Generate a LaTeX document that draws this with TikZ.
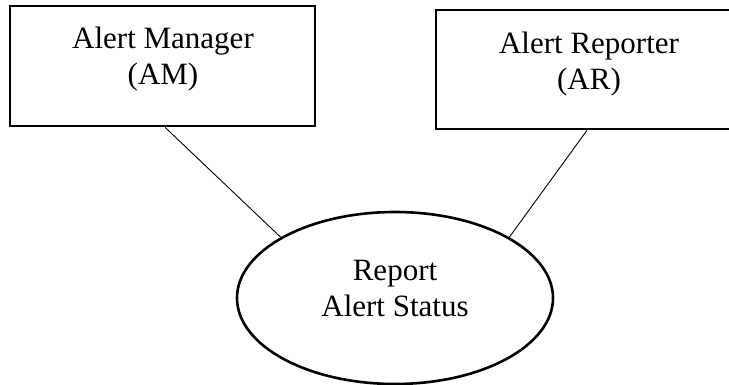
\documentclass[tikz,border=0pt]{standalone}
\usepackage{fontspec}
\setmainfont{Liberation Serif}
\usetikzlibrary{shapes.geometric,calc}
\begin{document}
\begin{tikzpicture}[x=1pt,y=-1pt,
  boxshape/.style={draw,line width=2.6pt,rectangle,inner sep=0pt},
  ovalshape/.style={draw,line width=2.6pt,ellipse,inner sep=0pt,minimum width=316pt,minimum height=172pt},
  label text/.style={align=center,inner sep=0pt,font=\fontsize{31}{36}\selectfont},
  link/.style={line width=0.9pt}]
\useasboundingbox (0,0) rectangle (729,385);
\clip (0,0) rectangle (729,385);
\node[boxshape,minimum width=305pt,minimum height=120pt] (am) at (162.5,66) {};
\node[boxshape,minimum width=306pt,minimum height=119pt] (ar) at (589,69.5) {};
\node[ovalshape] (ras) at (395,298) {};
\node[label text] (amtext) at (163,59) {Alert Manager\\(AM)};
\node[label text] (artext) at (589,64) {Alert Reporter\\(AR)};
\node[label text] (rastext) at (395,289) {Report\\Alert Status};
\draw[link] ($(am.south)+(2.5,0)$) -- (ras.152);
\draw[link] ($(ar.south)+(-2,0)$) -- (ras.28);
\end{tikzpicture}
\end{document}
